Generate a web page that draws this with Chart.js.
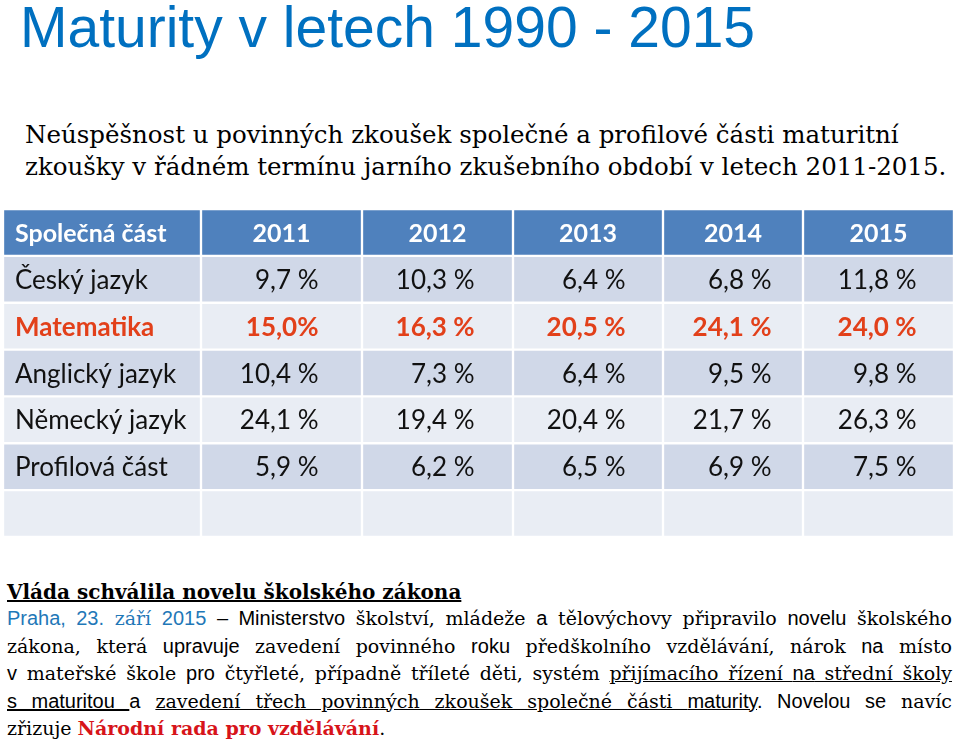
<!DOCTYPE html>
<html lang="cs">
<head>
<meta charset="utf-8">
<script src="https://cdn.jsdelivr.net/npm/chart.js@4.4.1/dist/chart.umd.min.js"></script>
<style>
  html, body { margin: 0; padding: 0; background: #fff; }
  body { width: 960px; height: 743px; position: relative; overflow: hidden; }
  .title {
    position: absolute; left: 20px; top: -1px;
    font: 57px/57px "Liberation Sans", Arial, sans-serif;
    color: #0070C0; white-space: nowrap;
  }
  .subtitle {
    position: absolute; left: 25px; top: 118.5px;
    font: 24.5px/32px "DejaVu Serif", serif; color: #000; white-space: nowrap;
  }
  #tableBox { position: absolute; left: 2.5px; top: 209px; width: 951px; height: 328px; }
  .news-h {
    position: absolute; top: 581px; left: 7px; margin: 0;
    font: bold 20px/22px "DejaVu Serif", serif; text-decoration: underline; white-space: nowrap;
  }
  .news-body { position: absolute; top: 605px; left: 7px; width: 945px; font: 19px/27.5px "DejaVu Serif", serif; }
  .ln { text-align: justify; text-align-last: justify; white-space: nowrap; height: 27.5px; }
  .ln.last { text-align-last: left; }
  .s { font-family: "Liberation Sans", Arial, sans-serif; font-size: 20px; }
  .blue { color: #1F78B8; }
  .u { text-decoration: underline; }
  .red { color: #D7141A; font-weight: bold; }
</style>
</head>
<body>
<div class="title">Maturity v letech 1990 - 2015</div>
<div class="subtitle">Neúspěšnost u povinných zkoušek společné a profilové části maturitní<br>zkoušky v řádném termínu jarního zkušebního období v letech 2011-2015.</div>

<div id="tableBox"><canvas id="tbl"></canvas></div>

<div class="news-h">Vláda schválila novelu školského zákona</div>
<div class="news-body">
  <div class="ln"><span class="s blue">Praha, 23.</span> <span class="blue">září</span> <span class="s blue">2015</span> <span class="s">– Ministerstvo</span> školství, mládeže <span class="s">a</span> tělovýchovy připravilo <span class="s">novelu</span> školského</div>
  <div class="ln">zákona, která <span class="s">upravuje</span> zavedení povinného <span class="s">roku</span> předškolního vzdělávání, nárok <span class="s">na</span> místo</div>
  <div class="ln"><span class="s">v</span> mateřské škole <span class="s">pro</span> čtyřleté, případně tříleté děti, systém <span class="u">přijímacího řízení <span class="s">na</span> střední školy</span></div>
  <div class="ln"><span class="s u">s maturitou </span><span class="s">a</span> <span class="u">zavedení třech povinných zkoušek společné části <span class="s">maturity</span></span><span class="s">. Novelou se</span> navíc</div>
  <div class="ln last">zřizuje <span class="red">Národní rada pro vzdělávání</span>.</div>
</div>

<script>
// table data
const headerLabel = "Společná část";
const years = ["2011", "2012", "2013", "2014", "2015"];
const subjects = ["Český jazyk", "Matematika", "Anglický jazyk", "Německý jazyk", "Profilová část"];
const cesky = [9.7, 10.3, 6.4, 6.8, 11.8];
const matematika = [15.0, 16.3, 20.5, 24.1, 24.0];
const anglicky = [10.4, 7.3, 6.4, 9.5, 9.8];
const nemecky = [24.1, 19.4, 20.4, 21.7, 26.3];
const profilova = [5.9, 6.2, 6.5, 6.9, 7.5];
// cells written without the space before % in the source
const tightCells = [[1, 0]];

// layout
const colWidths = [198, 161, 151, 150, 140, 151];
const valuePad = [42, 37, 36, 30, 36];
const HEADER_BG = "#4F81BD";
const DARK_BG = "#D0D8E8";
const LIGHT_BG = "#E9EDF4";
const RED = "#E2401A";

const seriesBySubject = [cesky, matematika, anglicky, nemecky, profilova];
const rowLabels = [headerLabel, ...subjects, ""];

function fmt(v, r, c) {
    const tight = tightCells.some(([a, b]) => a === r && b === c);
    return v.toFixed(1).replace(".", ",") + (tight ? "%" : " %");
}

function rowColor(ri) {
    if (ri === 0) return HEADER_BG;
    return ri % 2 === 1 ? DARK_BG : LIGHT_BG;
}

const edges = [0];
colWidths.forEach(w => edges.push(edges[edges.length - 1] + w));

const datasets = colWidths.map((w, ci) => ({
    label: ci === 0 ? headerLabel : years[ci - 1],
    data: rowLabels.map(() => [edges[ci], edges[ci + 1]]),
    backgroundColor: rowLabels.map((_, ri) => rowColor(ri)),
    borderColor: "#ffffff",
    borderWidth: 1.5,
    borderSkipped: false,
    grouped: false,
    barPercentage: 1,
    categoryPercentage: 1,
}));

const cellText = {
    id: "cellText",
    afterDatasetsDraw(chart) {
        const ctx = chart.ctx;
        ctx.save();
        ctx.textBaseline = "alphabetic";
        chart.data.datasets.forEach((ds, ci) => {
            const meta = chart.getDatasetMeta(ci);
            meta.data.forEach((el, ri) => {
                const { x, y, base } = el.getProps(["x", "y", "base"], true);
                const left = Math.min(x, base), right = Math.max(x, base);
                const ty = y + 9.5;
                if (ri === 0) {
                    ctx.font = "bold 25px Lato";
                    ctx.fillStyle = "#ffffff";
                    if (ci === 0) {
                        ctx.textAlign = "left";
                        ctx.fillText(headerLabel, left + 12, ty);
                    } else {
                        ctx.textAlign = "center";
                        ctx.fillText(years[ci - 1], (left + right) / 2, ty);
                    }
                    return;
                }
                const si = ri - 1;
                if (si >= subjects.length) return;
                const isMat = si === 1;
                ctx.font = (isMat ? "bold " : "") + "26px Lato";
                ctx.fillStyle = isMat ? RED : "#111111";
                if (ci === 0) {
                    ctx.textAlign = "left";
                    ctx.fillText(subjects[si], left + 12, ty);
                } else {
                    ctx.textAlign = "right";
                    ctx.fillText(fmt(seriesBySubject[si][ci - 1], si, ci - 1), right - 1.5 - valuePad[ci - 1], ty);
                }
            });
        });
        ctx.restore();
    }
};

new Chart(document.getElementById("tbl"), {
    type: "bar",
    data: { labels: rowLabels, datasets },
    options: {
        indexAxis: "y",
        responsive: true,
        maintainAspectRatio: false,
        animation: false,
        layout: { padding: 0 },
        plugins: { legend: { display: false }, tooltip: { enabled: false } },
        scales: {
            x: { type: "linear", min: 0, max: edges[edges.length - 1], display: false },
            y: { type: "category", display: false, offset: true },
        },
    },
    plugins: [cellText],
});
</script>
</body>
</html>
